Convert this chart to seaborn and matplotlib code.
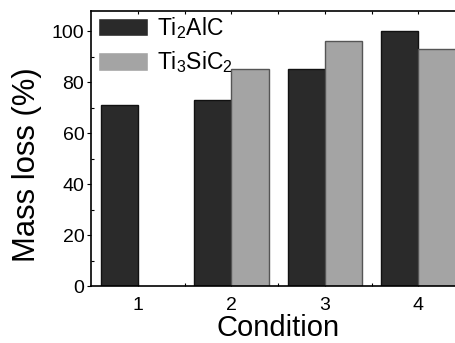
import matplotlib
matplotlib.use("Agg")
import matplotlib.pyplot as plt
import seaborn as sns
import numpy as np
import pandas as pd
from matplotlib.ticker import MultipleLocator, FixedLocator

conditions = ["1", "2", "3", "4"]
ti2alc = [71, 73, 85, 100]
ti3sic2 = [np.nan, 85, 96, 93]
materials = [r"$\mathregular{Ti_2AlC}$", r"$\mathregular{Ti_3SiC_2}$"]

df = pd.DataFrame({
    "Condition": conditions * 2,
    "Mass loss": ti2alc + ti3sic2,
    "Material": [materials[0]] * 4 + [materials[1]] * 4,
})

sns.set_style("ticks")
plt.rcParams["font.family"] = ["Liberation Sans", "DejaVu Sans"]
plt.rcParams["mathtext.fontset"] = "custom"
plt.rcParams["mathtext.rm"] = "Liberation Sans"
plt.rcParams["text.color"] = "black"
plt.rcParams["axes.labelcolor"] = "black"
plt.rcParams["xtick.color"] = "black"
plt.rcParams["ytick.color"] = "black"

fig = plt.figure(figsize=(4.56, 3.43), dpi=100)
ax = fig.add_axes([0.2, 0.166, 0.82, 0.803])

sns.barplot(data=df, x="Condition", y="Mass loss", hue="Material",
            palette=["#2a2a2a", "#a4a4a4"], width=0.8, dodge=True,
            saturation=1, linewidth=1, ax=ax)
edges = ["#111111", "#555555"]
for cont, ec in zip(ax.containers, edges):
    for p in cont:
        p.set_edgecolor(ec)

ax.set_xlim(-0.5, 3.5)
ax.set_ylim(0, 108)
ax.yaxis.set_major_locator(MultipleLocator(20))
ax.yaxis.set_minor_locator(MultipleLocator(10))
ax.xaxis.set_minor_locator(FixedLocator([0.5, 1.5, 2.5]))
ax.tick_params(axis="y", which="major", direction="out", length=3, width=0.8,
               labelsize=14, pad=2)
ax.tick_params(axis="y", which="minor", direction="in", length=2, width=0.8)
ax.tick_params(axis="x", which="both", direction="in", length=2.5, width=0.8,
               top=True, labelsize=14, pad=8)

for s in ax.spines.values():
    s.set_linewidth(1.2)
    s.set_color("black")

ax.set_xlabel("Condition", fontsize=21, labelpad=0)
ax.set_ylabel("Mass loss (%)", fontsize=22.3)
ax.yaxis.set_label_coords(-0.172, 0.44)
ax.yaxis.label.set_va("center")

ax.legend(loc="upper left", bbox_to_anchor=(0.0, 1.01), frameon=False,
          fontsize=16.5, handlelength=2.2, handleheight=0.85, handletextpad=0.35,
          labelspacing=0.38, borderaxespad=0, borderpad=0.3, title=None)

fig.savefig("out.png", dpi=100)
